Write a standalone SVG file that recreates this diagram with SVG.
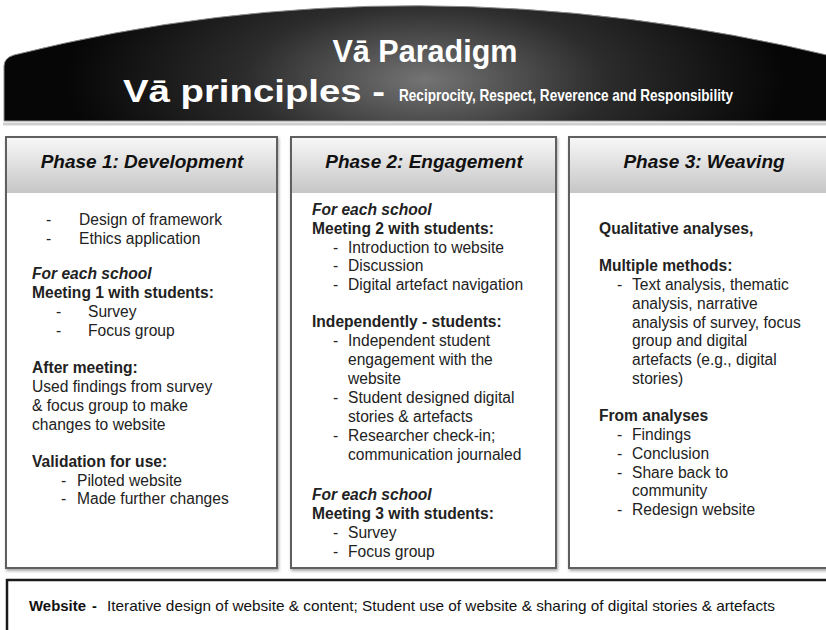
<svg xmlns="http://www.w3.org/2000/svg" width="826" height="630" viewBox="0 0 826 630">
<defs>
<radialGradient id="domeG" cx="425" cy="80" r="360" gradientUnits="userSpaceOnUse" gradientTransform="translate(425 80) scale(1 0.42) translate(-425 -80)">
<stop offset="0" stop-color="#747474"/>
<stop offset="0.5" stop-color="#2c2c2c"/>
<stop offset="1" stop-color="#060606"/>
</radialGradient>
<linearGradient id="hdrG" x1="0" y1="0" x2="0" y2="1">
<stop offset="0" stop-color="#f7f7f7"/>
<stop offset="1" stop-color="#c6c6c6"/>
</linearGradient>
<filter id="sh" x="-5%" y="-5%" width="110%" height="110%">
<feGaussianBlur in="SourceAlpha" stdDeviation="1.5"/>
<feOffset dx="1" dy="2"/>
<feComponentTransfer><feFuncA type="linear" slope="0.35"/></feComponentTransfer>
<feMerge><feMergeNode/><feMergeNode in="SourceGraphic"/></feMerge>
</filter>
</defs>
<style>
.t{font-family:"Liberation Sans",Arial,sans-serif;font-size:15.6px;fill:#222}
.b{font-weight:bold}
.bi{font-weight:bold;font-style:italic}
.hd{font-family:"Liberation Sans",Arial,sans-serif;font-size:19px;font-weight:bold;font-style:italic;fill:#111;text-anchor:middle}
.box{fill:#fff;stroke:#5e5e5e;stroke-width:2}
.hdr{fill:url(#hdrG)}
.wt{font-family:"Liberation Sans",Arial,sans-serif;fill:#fff;font-weight:bold}
.ft{font-family:"Liberation Sans",Arial,sans-serif;font-size:14.5px;fill:#111}
</style>
<rect width="826" height="630" fill="#fff"/>

<g id="dome">
<path d="M3,124 L835,124" stroke="#cfcfcf" stroke-width="3"/>
<path d="M4,121 V66 Q4,58 14,55 Q413,-45 840,58 V121 Z" fill="url(#domeG)" stroke="#8a8a8a" stroke-width="1"/>
<text class="wt" x="425" y="62" font-size="32" text-anchor="middle" textLength="185" lengthAdjust="spacingAndGlyphs">Vā Paradigm</text>
<text class="wt" x="123" y="102" font-size="31" textLength="262" lengthAdjust="spacingAndGlyphs">Vā principles -</text>
<text class="wt" x="399" y="101" font-size="16.5" textLength="334" lengthAdjust="spacingAndGlyphs">Reciprocity, Respect, Reverence and Responsibility</text>
</g>

<g id="phase1">
<rect class="box" x="6" y="137" width="271" height="431" filter="url(#sh)"/>
<rect class="hdr" x="7" y="138" width="269" height="55"/>
<text class="hd" x="142" y="168">Phase 1: Development</text>
<g class="t">
<text x="46" y="225">-</text><text x="79" y="225">Design of framework</text>
<text x="46" y="244">-</text><text x="79" y="244">Ethics application</text>
<text x="32" y="279" class="bi">For each school</text>
<text x="32" y="298" class="b">Meeting 1 with students:</text>
<text x="56" y="317">-</text><text x="88" y="317">Survey</text>
<text x="56" y="336">-</text><text x="88" y="336">Focus group</text>
<text x="32" y="373" class="b">After meeting:</text>
<text x="32" y="392">Used findings from survey</text>
<text x="32" y="411">&amp; focus group to make</text>
<text x="32" y="430">changes to website</text>
<text x="32" y="467" class="b">Validation for use:</text>
<text x="61" y="486">-</text><text x="77" y="486">Piloted website</text>
<text x="61" y="504">-</text><text x="77" y="504">Made further changes</text>
</g>
</g>

<g id="phase2">
<rect class="box" x="291" y="137" width="265" height="431" filter="url(#sh)"/>
<rect class="hdr" x="292" y="138" width="263" height="55"/>
<text class="hd" x="424" y="168">Phase 2: Engagement</text>
<g class="t">
<text x="312" y="215" class="bi">For each school</text>
<text x="312" y="234" class="b">Meeting 2 with students:</text>
<text x="333" y="253">-</text><text x="348" y="253">Introduction to website</text>
<text x="333" y="271">-</text><text x="348" y="271">Discussion</text>
<text x="333" y="290">-</text><text x="348" y="290">Digital artefact navigation</text>
<text x="312" y="327" class="b">Independently - students:</text>
<text x="333" y="346">-</text><text x="348" y="346">Independent student</text>
<text x="348" y="365">engagement with the</text>
<text x="348" y="384">website</text>
<text x="333" y="403">-</text><text x="348" y="403">Student designed digital</text>
<text x="348" y="422">stories &amp; artefacts</text>
<text x="333" y="441">-</text><text x="348" y="441">Researcher check-in;</text>
<text x="348" y="460">communication journaled</text>
<text x="312" y="500" class="bi">For each school</text>
<text x="312" y="519" class="b">Meeting 3 with students:</text>
<text x="333" y="538">-</text><text x="348" y="538">Survey</text>
<text x="333" y="557">-</text><text x="348" y="557">Focus group</text>
</g>
</g>

<g id="phase3">
<rect class="box" x="569" y="137" width="270" height="431" filter="url(#sh)"/>
<rect class="hdr" x="570" y="138" width="268" height="55"/>
<text class="hd" x="704" y="168">Phase 3: Weaving</text>
<g class="t">
<text x="599" y="234" class="b">Qualitative analyses,</text>
<text x="599" y="271" class="b">Multiple methods:</text>
<text x="617" y="290">-</text><text x="632" y="290">Text analysis, thematic</text>
<text x="632" y="309">analysis, narrative</text>
<text x="632" y="328">analysis of survey, focus</text>
<text x="632" y="346">group and digital</text>
<text x="632" y="365">artefacts (e.g., digital</text>
<text x="632" y="384">stories)</text>
<text x="599" y="421" class="b">From analyses</text>
<text x="617" y="440">-</text><text x="632" y="440">Findings</text>
<text x="617" y="459">-</text><text x="632" y="459">Conclusion</text>
<text x="617" y="478">-</text><text x="632" y="478">Share back to</text>
<text x="632" y="496">community</text>
<text x="617" y="515">-</text><text x="632" y="515">Redesign website</text>
</g>
</g>

<g id="website">
<rect x="7" y="580" width="835" height="70" fill="#fff" stroke="#1a1a1a" stroke-width="2.5"/>
<text class="ft b" x="29" y="611" textLength="57" lengthAdjust="spacingAndGlyphs">Website</text>
<text class="ft b" x="92" y="611">-</text>
<text class="ft" x="107" y="611" textLength="668" lengthAdjust="spacingAndGlyphs">Iterative design of website &amp; content; Student use of website &amp; sharing of digital stories &amp; artefacts</text>
</g>
<g id="connectors"/>
</svg>
